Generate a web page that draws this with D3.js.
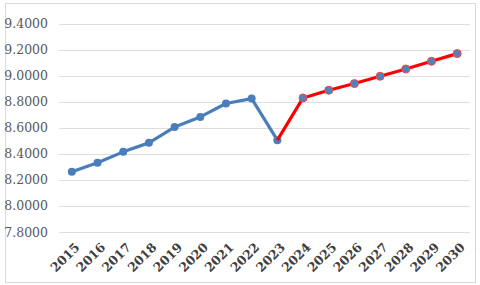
<!DOCTYPE html>
<html>
<head>
<meta charset="utf-8">
<script src="https://cdn.jsdelivr.net/npm/d3@7"></script>
<style>
body { margin: 0; background: #fff; }
svg { display: block; }
</style>
</head>
<body>
<div id="chart"></div>
<script>
// data
var years = ["2015", "2016", "2017", "2018", "2019", "2020", "2021", "2022",
	"2023", "2024", "2025", "2026", "2027", "2028", "2029", "2030"];
var actual = [8.262, 8.331, 8.415, 8.484, 8.605, 8.683, 8.786, 8.824, 8.505];
var forecastYears = ["2023", "2024", "2025", "2026", "2027", "2028", "2029", "2030"];
var forecast = [8.505, 8.829, 8.888, 8.939, 8.995, 9.051, 9.110, 9.169];
var yTicks = [7.8, 8.0, 8.2, 8.4, 8.6, 8.8, 9.0, 9.2, 9.4];

var width = 480, height = 285;
var plotLeft = 59, plotRight = 470, plotTop = 23.5, plotBottom = 232;

var svg = d3.select("#chart").append("svg")
	.attr("width", width).attr("height", height);

// outer frame
svg.append("rect").attr("x", 5.5).attr("y", 3.5)
	.attr("width", 470).attr("height", 279)
	.attr("fill", "#fff").attr("stroke", "#d9d9d9").attr("stroke-width", 1);

var x = d3.scalePoint().domain(years).range([plotLeft, plotRight]).padding(0.5);
var y = d3.scaleLinear().domain([7.8, 9.4]).range([plotBottom, plotTop]);

// gridlines
svg.append("g").selectAll("line").data(yTicks).enter().append("line")
	.attr("x1", plotLeft).attr("x2", plotRight)
	.attr("y1", function(d) { return Math.round(y(d)) + 0.5; })
	.attr("y2", function(d) { return Math.round(y(d)) + 0.5; })
	.attr("stroke", "#dedede").attr("stroke-width", 1);

// y axis labels
var yAxis = d3.axisLeft(y).tickValues(yTicks).tickSize(0).tickPadding(0)
	.tickFormat(d3.format(".4f"));
var gy = svg.append("g").attr("transform", "translate(48,0)").call(yAxis);
gy.select(".domain").remove();
gy.selectAll("text").attr("fill", "#595959")
	.style("font-family", "'DejaVu Serif', serif").style("font-size", "12.5px");

// x axis labels, rotated
var xAxis = d3.axisBottom(x).tickSize(0).tickPadding(0);
var gx = svg.append("g").attr("transform", "translate(0," + plotBottom + ")").call(xAxis);
gx.select(".domain").remove();
gx.selectAll("text")
	.attr("fill", "#404040")
	.style("font-family", "'DejaVu Serif', serif")
	.style("font-size", "12.5px").style("font-weight", "bold")
	.attr("text-anchor", "end").attr("dy", "0.35em")
	.attr("transform", "translate(5,13) rotate(-45)");

var line = d3.line()
	.x(function(d) { return x(d.year); })
	.y(function(d) { return y(d.value); });

var actualData = actual.map(function(v, i) { return { year: years[i], value: v }; });
var forecastData = forecast.map(function(v, i) { return { year: forecastYears[i], value: v }; });

svg.append("path").datum(actualData).attr("d", line)
	.attr("fill", "none").attr("stroke", "#4a7ebb").attr("stroke-width", 3.2)
	.attr("stroke-linejoin", "round");
svg.append("g").selectAll("circle").data(actualData).enter().append("circle")
	.attr("cx", function(d) { return x(d.year); })
	.attr("cy", function(d) { return y(d.value); })
	.attr("r", 4).attr("fill", "#4a7ebb");

svg.append("path").datum(forecastData).attr("d", line)
	.attr("fill", "none").attr("stroke", "#ff0000").attr("stroke-width", 3.2)
	.attr("stroke-linejoin", "round");
svg.append("g").selectAll("circle").data(forecastData.slice(1)).enter().append("circle")
	.attr("cx", function(d) { return x(d.year); })
	.attr("cy", function(d) { return y(d.value); })
	.attr("r", 4).attr("fill", "#4f81bd")
	.attr("stroke", "#ff4040").attr("stroke-width", 1);
</script>
</body>
</html>
